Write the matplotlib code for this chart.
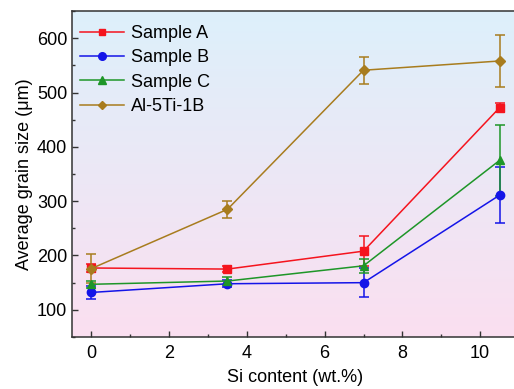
import numpy as np
import matplotlib
matplotlib.use("Agg")
import matplotlib.pyplot as plt
from matplotlib.colors import LinearSegmentedColormap
from matplotlib.lines import Line2D
from matplotlib.ticker import MultipleLocator

plt.rcParams['font.family'] = ['Liberation Sans', 'DejaVu Sans']

# data
si_content = [0, 3.5, 7, 10.5]

sample_a = [177, 175, 208, 472]
sample_a_err = [8, 5, 27, 8]

sample_b = [132, 148, 150, 311]
sample_b_err = [12, 6, 27, 52]

sample_c = [147, 153, 181, 375]
sample_c_err = [6, 8, 13, 65]

al_ti_b = [176, 285, 541, 558]
al_ti_b_err = [27, 16, 25, 47]

series = [
    ("Sample A", sample_a, sample_a_err, "#f5141e", "s", 5.5),
    ("Sample B", sample_b, sample_b_err, "#1414e8", "o", 6),
    ("Sample C", sample_c, sample_c_err, "#1e9628", "^", 6),
    ("Al-5Ti-1B", al_ti_b, al_ti_b_err, "#a87c1e", "D", 5),
]

fig = plt.figure(figsize=(5.14, 3.89), dpi=100)
ax = fig.add_axes([0.1401, 0.1337, 0.8696, 0.838])

# gradient background, blue at top to pink at bottom
cmap = LinearSegmentedColormap.from_list("bg", ["#fbdff0", "#ddf0fb"])
grad = np.linspace(0, 1, 256).reshape(-1, 1)
ax.imshow(grad, cmap=cmap, aspect="auto", origin="lower",
          extent=[0, 1, 0, 1], transform=ax.transAxes, zorder=0)

handles = []
for name, vals, err, col, mk, ms in series:
    ax.errorbar(si_content, vals, yerr=err, color=col, marker=mk,
                markersize=ms, linewidth=1.1, elinewidth=1.1,
                capsize=3.5, capthick=1.1, zorder=3)
    handles.append(Line2D([], [], color=col, marker=mk, markersize=ms - 0.5,
                          linewidth=1.1, label=name))

ax.set_xlim(-0.5, 11)
ax.set_ylim(50, 650)
ax.xaxis.set_major_locator(MultipleLocator(2))
ax.xaxis.set_minor_locator(MultipleLocator(1))
ax.yaxis.set_major_locator(MultipleLocator(100))
ax.yaxis.set_minor_locator(MultipleLocator(50))
ax.tick_params(which="both", direction="in", labelsize=13, colors="#333333",
               labelcolor="black")
ax.tick_params(which="major", length=4, width=1)
ax.tick_params(which="minor", length=2.5, width=1)
ax.tick_params(axis="x", pad=6)

for s in ax.spines.values():
    s.set_color("#333333")
    s.set_linewidth(1.1)

ax.set_xlabel("Si content (wt.%)", fontsize=13, labelpad=5)
ax.set_ylabel("Average grain size (\u03bcm)", fontsize=13, labelpad=3)

ax.legend(handles=handles, loc="upper left", frameon=False, fontsize=13,
          handlelength=2.4, handletextpad=0.4, labelspacing=0.4,
          borderaxespad=0.3, bbox_to_anchor=(-0.01, 0.995))

fig.savefig("out.png", dpi=100)
